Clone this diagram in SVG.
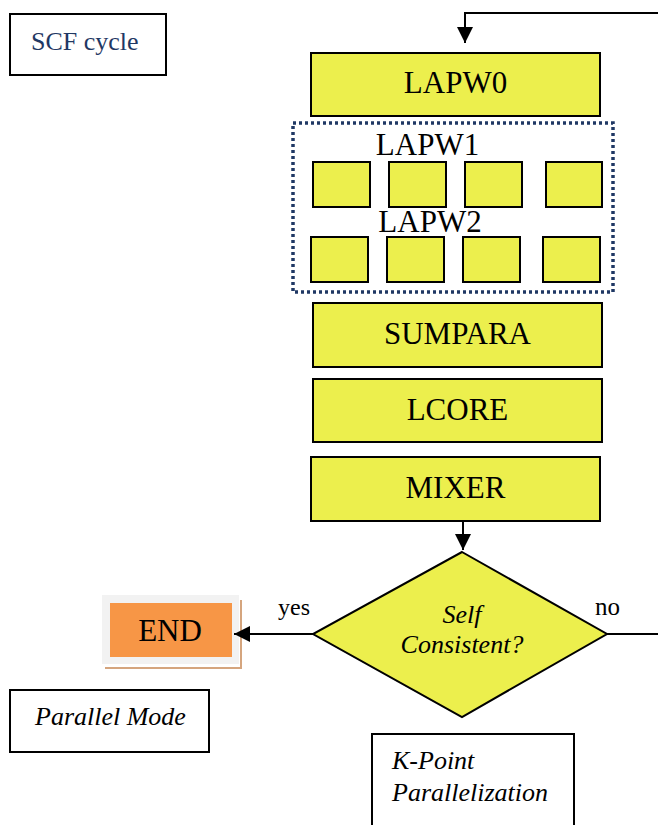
<svg xmlns="http://www.w3.org/2000/svg" width="658" height="825" viewBox="0 0 658 825">
<style>
.box{fill:#ECEF4D;stroke:#000;stroke-width:2}
.lbl{font-family:"Liberation Serif","Times New Roman",serif;font-size:31px;fill:#000;text-anchor:middle}
.it{font-family:"Liberation Serif","Times New Roman",serif;font-style:italic;font-size:26px;fill:#000}
.plain{font-family:"Liberation Serif","Times New Roman",serif;fill:#000}
.note{fill:#fff;stroke:#000;stroke-width:2}
.con{fill:none;stroke:#000;stroke-width:2}
</style>
<defs>
<marker id="ah2" viewBox="0 0 16 16" refX="16" refY="8" markerWidth="16" markerHeight="16" markerUnits="userSpaceOnUse" orient="auto">
<path d="M0,0 L16,8 L0,16 z" fill="#000"/>
</marker>
</defs>
<rect width="658" height="825" fill="#fff"/>
<g id="scf-cycle">
<rect class="note" x="10" y="14" width="156" height="61"/>
<text class="plain" x="31" y="50" font-size="26" style="fill:#1F3864">SCF cycle</text>
</g>
<g id="lapw0">
<rect class="box" x="311" y="53" width="289" height="63"/>
<text class="lbl" x="455.5" y="93">LAPW0</text>
</g>
<g id="lapw-group">
<rect x="293" y="123" width="320" height="169" fill="none" stroke="#1F3864" stroke-width="3.5" stroke-dasharray="3 3"/>
<text class="lbl" x="427.5" y="155">LAPW1</text>
<text class="lbl" x="430" y="232">LAPW2</text>
</g>
<g id="lapw1-nodes">
<rect class="box" x="313" y="162" width="57" height="45"/>
<rect class="box" x="389" y="162" width="57" height="45"/>
<rect class="box" x="465" y="162" width="57" height="45"/>
<rect class="box" x="546" y="162" width="56" height="45"/>
</g>
<g id="lapw2-nodes">
<rect class="box" x="311" y="237" width="57" height="45"/>
<rect class="box" x="387" y="237" width="57" height="45"/>
<rect class="box" x="463" y="237" width="57" height="45"/>
<rect class="box" x="543" y="237" width="57" height="45"/>
</g>
<g id="sumpara">
<rect class="box" x="313" y="303" width="289" height="64"/>
<text class="lbl" x="457.5" y="344">SUMPARA</text>
</g>
<g id="lcore">
<rect class="box" x="313" y="379" width="289" height="63"/>
<text class="lbl" x="457.5" y="420">LCORE</text>
</g>
<g id="mixer">
<rect class="box" x="311" y="457" width="289" height="64"/>
<text class="lbl" x="455.5" y="498">MIXER</text>
</g>
<g id="decision">
<polygon class="box" points="462,552 607,634 462,717 313,634"/>
<text class="it" x="462" y="623" text-anchor="middle">Self</text>
<text class="it" x="462" y="653" text-anchor="middle">Consistent?</text>
</g>
<g id="end">
<rect x="105" y="600" width="137" height="69" fill="#D5A57E"/>
<rect x="103" y="597" width="137" height="70" fill="#fff"/>
<rect x="102" y="595" width="137" height="69" fill="#F2F2F2"/>
<rect x="110" y="603" width="122" height="54" fill="#F79646"/>
<text class="lbl" x="170" y="641">END</text>
</g>
<g id="parallel-mode">
<rect class="note" x="10" y="690" width="199" height="62"/>
<text class="it" x="35" y="725">Parallel Mode</text>
</g>
<g id="kpoint">
<rect class="note" x="372" y="734" width="202" height="100"/>
<text class="it" x="392" y="769">K-Point</text>
<text class="it" x="392" y="801">Parallelization</text>
</g>
<g id="connectors">
<path class="con" d="M658,13 H465 V43" marker-end="url(#ah2)"/>
<path class="con" d="M463,521 V550" marker-end="url(#ah2)"/>
<path class="con" d="M313,634 H234" marker-end="url(#ah2)"/>
<path class="con" d="M607,634 H658"/>
<text class="plain" x="310" y="615" font-size="24" text-anchor="end">yes</text>
<text class="plain" x="595" y="615" font-size="25">no</text>
</g>
</svg>
